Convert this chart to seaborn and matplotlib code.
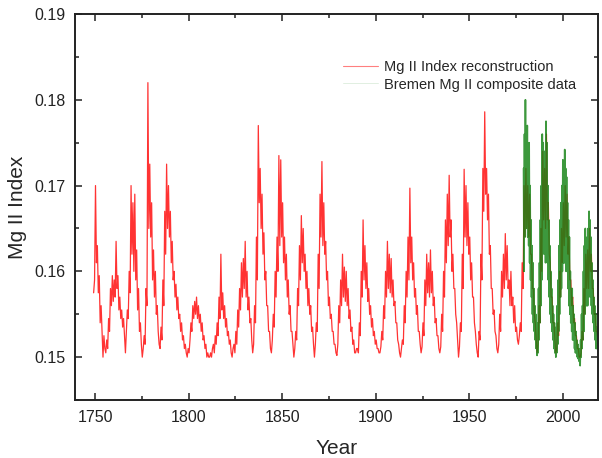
import matplotlib.pyplot as plt
import matplotlib.ticker as ticker
from matplotlib.lines import Line2D
import seaborn as sns
import numpy as np
import pandas as pd

# reconstruction, two readings per year (first half, second half), 1749 .. 2018
recon_years = list(range(1749, 2019))
recon_vals = [
    0.1575, 0.1590,
    0.1700, 0.1610, 0.1630, 0.1575, 0.1595, 0.1540, 0.1560, 0.1530, 0.1500, 0.1525,
    0.1510, 0.1505, 0.1520, 0.1510, 0.1545, 0.1530, 0.1580, 0.1560, 0.1595, 0.1565,
    0.1590, 0.1570, 0.1635, 0.1580, 0.1595, 0.1555, 0.1570, 0.1545, 0.1555, 0.1535,
    0.1545, 0.1525, 0.1505, 0.1530, 0.1555, 0.1545, 0.1600, 0.1575, 0.1700, 0.1620,
    0.1680, 0.1600, 0.1690, 0.1590, 0.1625, 0.1555, 0.1580, 0.1530, 0.1540, 0.1515,
    0.1500, 0.1510, 0.1525, 0.1515, 0.1580, 0.1560, 0.1820, 0.1650, 0.1725, 0.1640,
    0.1680, 0.1590, 0.1625, 0.1570, 0.1600, 0.1550, 0.1560, 0.1530, 0.1515, 0.1510,
    0.1535, 0.1520, 0.1590, 0.1560, 0.1670, 0.1620, 0.1725, 0.1650, 0.1700, 0.1640,
    0.1670, 0.1610, 0.1635, 0.1590, 0.1600, 0.1570, 0.1585, 0.1555, 0.1570, 0.1545,
    0.1550, 0.1530, 0.1540, 0.1520, 0.1525, 0.1510, 0.1515, 0.1505, 0.1500, 0.1510,
    0.1505, 0.1520, 0.1540, 0.1530, 0.1560, 0.1545, 0.1565, 0.1550, 0.1570, 0.1545,
    0.1560, 0.1540, 0.1550, 0.1530, 0.1540, 0.1520, 0.1525, 0.1510, 0.1515, 0.1500,
    0.1505, 0.1500, 0.1500, 0.1505, 0.1500, 0.1510, 0.1515, 0.1505, 0.1525, 0.1515,
    0.1540, 0.1525, 0.1570, 0.1545, 0.1620, 0.1555, 0.1575, 0.1545, 0.1560, 0.1535,
    0.1545, 0.1525, 0.1530, 0.1515, 0.1520, 0.1505, 0.1500, 0.1510, 0.1515, 0.1505,
    0.1530, 0.1515, 0.1555, 0.1535, 0.1580, 0.1555, 0.1610, 0.1570, 0.1615, 0.1580,
    0.1635, 0.1570, 0.1600, 0.1555, 0.1570, 0.1540, 0.1545, 0.1520, 0.1505, 0.1515,
    0.1560, 0.1540, 0.1640, 0.1590, 0.1770, 0.1680, 0.1720, 0.1650, 0.1690, 0.1620,
    0.1645, 0.1590, 0.1600, 0.1560, 0.1560, 0.1530, 0.1530, 0.1510, 0.1505, 0.1520,
    0.1550, 0.1535, 0.1600, 0.1570, 0.1640, 0.1600, 0.1735, 0.1630, 0.1730, 0.1640,
    0.1680, 0.1610, 0.1640, 0.1590, 0.1620, 0.1570, 0.1590, 0.1550, 0.1560, 0.1530,
    0.1530, 0.1515, 0.1500, 0.1510, 0.1530, 0.1520, 0.1580, 0.1560, 0.1630, 0.1590,
    0.1665, 0.1610, 0.1650, 0.1600, 0.1620, 0.1580, 0.1600, 0.1560, 0.1580, 0.1550,
    0.1560, 0.1530, 0.1535, 0.1515, 0.1500, 0.1515, 0.1540, 0.1530, 0.1620, 0.1580,
    0.1690, 0.1640, 0.1728, 0.1630, 0.1680, 0.1620, 0.1635, 0.1590, 0.1600, 0.1560,
    0.1570, 0.1545, 0.1550, 0.1530, 0.1530, 0.1515, 0.1515, 0.1505, 0.1502, 0.1515,
    0.1560, 0.1540, 0.1590, 0.1560, 0.1620, 0.1570, 0.1605, 0.1565, 0.1600, 0.1560,
    0.1580, 0.1545, 0.1555, 0.1530, 0.1535, 0.1515, 0.1520, 0.1505, 0.1505, 0.1510,
    0.1510, 0.1505, 0.1540, 0.1525, 0.1600, 0.1570, 0.1660, 0.1590, 0.1630, 0.1580,
    0.1610, 0.1565, 0.1580, 0.1550, 0.1560, 0.1535, 0.1545, 0.1525, 0.1530, 0.1515,
    0.1520, 0.1510, 0.1510, 0.1505, 0.1505, 0.1512, 0.1530, 0.1520, 0.1560, 0.1545,
    0.1600, 0.1570, 0.1635, 0.1580, 0.1620, 0.1575, 0.1615, 0.1570, 0.1590, 0.1560,
    0.1565, 0.1540, 0.1540, 0.1520, 0.1515, 0.1505, 0.1500, 0.1510, 0.1520, 0.1515,
    0.1560, 0.1540, 0.1600, 0.1570, 0.1640, 0.1590, 0.1697, 0.1610, 0.1640, 0.1590,
    0.1610, 0.1570, 0.1580, 0.1550, 0.1560, 0.1530, 0.1530, 0.1515, 0.1505, 0.1512,
    0.1540, 0.1525, 0.1590, 0.1560, 0.1620, 0.1575, 0.1610, 0.1570, 0.1625, 0.1575,
    0.1600, 0.1560, 0.1570, 0.1540, 0.1545, 0.1525, 0.1525, 0.1510, 0.1505, 0.1512,
    0.1550, 0.1530, 0.1600, 0.1570, 0.1660, 0.1610, 0.1690, 0.1630, 0.1712, 0.1640,
    0.1660, 0.1600, 0.1620, 0.1580, 0.1580, 0.1550, 0.1540, 0.1520, 0.1500, 0.1512,
    0.1540, 0.1530, 0.1620, 0.1580, 0.1719, 0.1640, 0.1700, 0.1630, 0.1680, 0.1620,
    0.1640, 0.1590, 0.1610, 0.1570, 0.1570, 0.1540, 0.1530, 0.1515, 0.1505, 0.1500,
    0.1530, 0.1520, 0.1620, 0.1590, 0.1720, 0.1670, 0.1786, 0.1690, 0.1720, 0.1660,
    0.1690, 0.1620, 0.1630, 0.1580, 0.1580, 0.1550, 0.1555, 0.1530, 0.1525, 0.1510,
    0.1505, 0.1515, 0.1550, 0.1530, 0.1600, 0.1570, 0.1620, 0.1580, 0.1644, 0.1590,
    0.1630, 0.1580, 0.1590, 0.1560, 0.1600, 0.1560, 0.1570, 0.1540, 0.1560, 0.1530,
    0.1535, 0.1520, 0.1515, 0.1525, 0.1540, 0.1530, 0.1610, 0.1580, 0.1700, 0.1640,
    0.1720, 0.1650, 0.1700, 0.1640, 0.1690, 0.1620, 0.1620, 0.1580, 0.1580, 0.1550,
    0.1540, 0.1520, 0.1505, 0.1515, 0.1560, 0.1540, 0.1650, 0.1600, 0.1740, 0.1660,
    0.1720, 0.1650, 0.1760, 0.1660, 0.1680, 0.1620, 0.1610, 0.1570, 0.1570, 0.1540,
    0.1540, 0.1520, 0.1505, 0.1510, 0.1540, 0.1525, 0.1600, 0.1570, 0.1650, 0.1610,
    0.1680, 0.1630, 0.1700, 0.1640, 0.1690, 0.1620, 0.1640, 0.1590, 0.1590, 0.1560,
    0.1570, 0.1540, 0.1545, 0.1525, 0.1525, 0.1510, 0.1510, 0.1500, 0.1500, 0.1505,
    0.1530, 0.1520, 0.1580, 0.1550, 0.1620, 0.1580, 0.1625, 0.1580, 0.1650, 0.1600,
    0.1620, 0.1580, 0.1580, 0.1550, 0.1550, 0.1530, 0.1530, 0.1520,
]

# Bremen composite, four readings per year (high, low, high, low), 1979 .. 2018
bremen_years = list(range(1979, 2019))
bremen_vals = [
    0.1720, 0.1600, 0.1760, 0.1640,
    0.1800, 0.1650, 0.1760, 0.1660,
    0.1770, 0.1640, 0.1740, 0.1630,
    0.1750, 0.1610, 0.1700, 0.1590,
    0.1660, 0.1570, 0.1630, 0.1550,
    0.1610, 0.1540, 0.1580, 0.1530,
    0.1560, 0.1520, 0.1550, 0.1510,
    0.1535, 0.1502, 0.1540, 0.1505,
    0.1580, 0.1520, 0.1610, 0.1540,
    0.1660, 0.1560, 0.1700, 0.1590,
    0.1760, 0.1620, 0.1750, 0.1630,
    0.1740, 0.1620, 0.1730, 0.1610,
    0.1775, 0.1630, 0.1750, 0.1610,
    0.1700, 0.1590, 0.1660, 0.1570,
    0.1630, 0.1550, 0.1600, 0.1540,
    0.1580, 0.1530, 0.1560, 0.1520,
    0.1550, 0.1510, 0.1540, 0.1505,
    0.1530, 0.1500, 0.1535, 0.1505,
    0.1560, 0.1515, 0.1590, 0.1530,
    0.1630, 0.1550, 0.1660, 0.1570,
    0.1680, 0.1580, 0.1700, 0.1600,
    0.1730, 0.1610, 0.1710, 0.1610,
    0.1742, 0.1610, 0.1720, 0.1600,
    0.1710, 0.1600, 0.1680, 0.1580,
    0.1660, 0.1560, 0.1640, 0.1550,
    0.1600, 0.1540, 0.1580, 0.1530,
    0.1580, 0.1520, 0.1560, 0.1520,
    0.1550, 0.1510, 0.1540, 0.1505,
    0.1530, 0.1505, 0.1520, 0.1500,
    0.1515, 0.1498, 0.1510, 0.1495,
    0.1505, 0.1490, 0.1520, 0.1500,
    0.1550, 0.1510, 0.1560, 0.1520,
    0.1600, 0.1530, 0.1630, 0.1550,
    0.1650, 0.1560, 0.1630, 0.1560,
    0.1640, 0.1560, 0.1650, 0.1570,
    0.1670, 0.1580, 0.1660, 0.1570,
    0.1640, 0.1560, 0.1610, 0.1550,
    0.1590, 0.1540, 0.1570, 0.1530,
    0.1560, 0.1520, 0.1550, 0.1510,
    0.1535, 0.1510, 0.1525, 0.1510,
]

red_t = [y + f for y in recon_years for f in (0.25, 0.75)]
green_t = [y + f for y in bremen_years for f in (0.0, 0.25, 0.5, 0.75)]
df_red = pd.DataFrame({"Year": red_t, "MgII": recon_vals})
df_green = pd.DataFrame({"Year": green_t, "MgII": bremen_vals})

sns.set_style("ticks")
plt.rcParams['font.family'] = ['Liberation Sans', 'DejaVu Sans']

fig = plt.figure(figsize=(6.02, 4.58), dpi=100)
ax = fig.add_axes([0.1246, 0.1266, 0.8688, 0.8428])

sns.lineplot(data=df_red, x="Year", y="MgII", ax=ax, color="#ff0000",
             linewidth=0.9, alpha=0.8, estimator=None, sort=False)
sns.lineplot(data=df_green, x="Year", y="MgII", ax=ax, color="#128212",
             linewidth=1.2, alpha=0.82, estimator=None, sort=False)

ax.set_xlim(1739.3, 2018.8)
ax.set_ylim(0.145, 0.19)
ax.xaxis.set_major_locator(ticker.MultipleLocator(50))
ax.xaxis.set_minor_locator(ticker.MultipleLocator(25))
ax.yaxis.set_major_locator(ticker.MultipleLocator(0.01))
ax.yaxis.set_minor_locator(ticker.MultipleLocator(0.005))
ax.yaxis.set_major_formatter(ticker.FormatStrFormatter('%.2f'))
ax.tick_params(which='both', direction='in', top=True, right=True,
               colors='#222222', labelsize=11.5, width=1.1)
ax.tick_params(which='major', length=5, pad=7)
ax.tick_params(which='minor', length=3)
for s in ax.spines.values():
    s.set_linewidth(1.4)
    s.set_color('#222222')

ax.set_xlabel("Year", fontsize=15, labelpad=10)
ax.set_ylabel("Mg II Index", fontsize=15, labelpad=5)

handles = [Line2D([], [], color="#ff0000", lw=0.8, alpha=0.5),
           Line2D([], [], color="#128212", lw=0.6, alpha=0.15)]
ax.legend(handles, ["Mg II Index reconstruction", "Bremen Mg II composite data"],
          loc='upper left', bbox_to_anchor=(0.488, 0.915), frameon=False,
          fontsize=10.5, handlelength=2.4, handletextpad=0.4, labelspacing=0.25)

plt.savefig("out.png", dpi=100)
